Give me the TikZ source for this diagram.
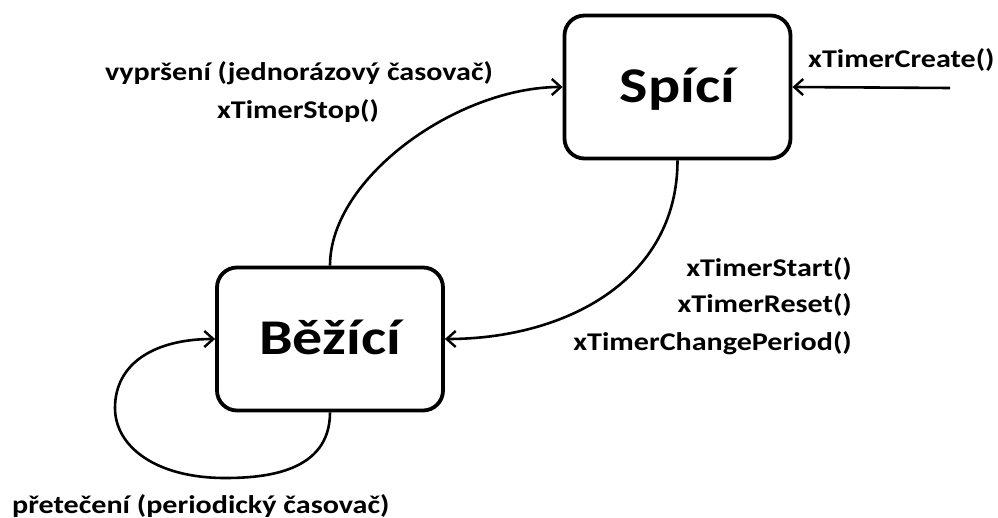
\documentclass[tikz,border=0pt]{standalone}
\usepackage{fontspec}
\setmainfont{Carlito}
\newfontfamily\lblfont[FakeStretch=1.18]{Carlito}
\newfontfamily\boxfont[FakeStretch=1.2]{Carlito}
\usetikzlibrary{arrows.meta}
\begin{document}
\begin{tikzpicture}[x=1pt,y=-1pt,
  state/.style={draw,line width=3.8pt,rounded corners=20pt,minimum width=226pt,minimum height=143pt,inner sep=0pt,text height=32pt,text depth=0pt,font=\boxfont\bfseries\fontsize{50}{54}\selectfont},
  lbl/.style={font=\lblfont\bfseries\fontsize{25.5}{30}\selectfont,inner sep=0pt},
  conn/.style={line width=2.6pt,-{Straight Barb[length=9pt,width=16pt,line width=2.4pt]}}]
\useasboundingbox (0,0) rectangle (998,518);
\node[state] (S) at (677.5,87) {Spící};
\node[state] (B) at (330,339) {Běžící};
\coordinate (C) at (950,88);
\node[lbl,anchor=base west] (lc) at (808,68) {xTimerCreate()};
\node[lbl,anchor=base] (ls1) at (299,81) {vypršení (jednorázový časovač)};
\node[lbl,anchor=base] (ls2) at (298,119) {xTimerStop()};
\node[lbl,anchor=base east] (lr1) at (852,277) {xTimerStart()};
\node[lbl,anchor=base east] (lr2) at (852,313) {xTimerReset()};
\node[lbl,anchor=base east] (lr3) at (852,350) {xTimerChangePeriod()};
\node[lbl,anchor=base west] (lp) at (12,513) {přetečení (periodický časovač)};
\draw[conn] (C) -- (S.east);
\draw[conn] (B.north) .. controls +(0,-88) and +(-105,0) .. (S.west);
\draw[conn] (S.south) .. controls +(0,120) and +(120,0) .. (B.east);
\coordinate (L1) at (225,478);
\coordinate (L2) at (115,408);
\draw[conn] (B.south) .. controls +(0,60) and +(40,0) .. (L1) .. controls +(-70,0) and +(0,38) .. (L2) .. controls +(0,-45) and +(-60,0) .. (B.west);
\end{tikzpicture}
\end{document}
